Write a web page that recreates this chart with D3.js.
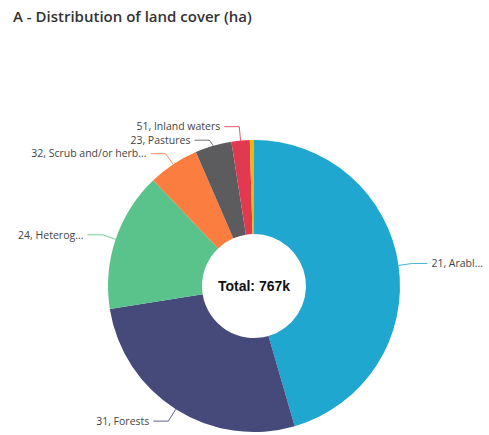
<!DOCTYPE html>
<html>
<head>
<meta charset="utf-8">
<script src="https://cdn.jsdelivr.net/npm/d3@7"></script>
<style>
  html, body { margin: 0; padding: 0; background: #fff; }
  svg { display: block; }
</style>
</head>
<body>
<svg id="chart" width="489" height="435"></svg>
<script>
// Land cover classes (CORINE level-2 codes) and area in thousand hectares
const categories = ["21, Arable land", "31, Forests", "24, Heterogeneous agricultural areas",
                    "32, Scrub and/or herbaceous vegetation", "23, Pastures", "51, Inland waters", "Other"];
const shortLabels = ["21, Arabl...", "31, Forests", "24, Heterog...",
                     "32, Scrub and/or herb...", "23, Pastures", "51, Inland waters", ""];
const values = [349, 207, 118, 43, 31, 15.5, 3.5];
const colors = ["#20A7CF", "#454A7B", "#5AC38B", "#FC7D40", "#5C5C5F", "#E13950", "#F3B607"];
const totalLabel = "Total: 767k";

const svg = d3.select("#chart");
const cx = 254, cy = 286, rOuter = 146, rInner = 52;

svg.append("text")
  .attr("x", 13).attr("y", 22)
  .attr("font-family", "'Open Sans', 'Noto Sans', sans-serif")
  .attr("font-size", 15)
  .attr("font-weight", 600)
  .attr("fill", "#333")
  .text("A - Distribution of land cover (ha)");

const data = categories.map((c, i) => ({ cat: c, label: shortLabels[i], value: values[i], color: colors[i] }));

const pie = d3.pie().value(d => d.value).sort(null);
const arcs = pie(data);
const arc = d3.arc().innerRadius(rInner).outerRadius(rOuter);

const g = svg.append("g").attr("transform", `translate(${cx},${cy})`);

g.selectAll("path.slice")
  .data(arcs)
  .join("path")
  .attr("class", "slice")
  .attr("d", arc)
  .attr("fill", d => d.data.color);

// Leader lines: radial stub from the rim, then a short horizontal run to the label
const stub = 14;
const labelled = arcs.filter(d => d.data.label);
const items = labelled.map(d => {
  const mid = (d.startAngle + d.endAngle) / 2;
  const rim = [Math.sin(mid) * rOuter, -Math.cos(mid) * rOuter];
  const elbow = [Math.sin(mid) * (rOuter + stub), -Math.cos(mid) * (rOuter + stub)];
  return { d, mid, rim, elbow, right: Math.sin(mid) > 0 };
});

// keep labels on each side from overlapping (top to bottom)
[true, false].forEach(side => {
  const list = items.filter(it => it.right === side).sort((a, b) => a.elbow[1] - b.elbow[1]);
  for (let i = 1; i < list.length; i++) {
    const minY = list[i - 1].elbow[1] + 13.5;
    if (list[i].elbow[1] < minY) list[i].elbow[1] = minY;
  }
});

items.forEach(it => {
  const dir = it.right ? 1 : -1;
  const end = [it.elbow[0] + dir * 15, it.elbow[1]];
  g.append("polyline")
    .attr("points", [it.rim, it.elbow, end].map(p => p.join(",")).join(" "))
    .attr("fill", "none")
    .attr("stroke", it.d.data.color)
    .attr("stroke-opacity", 0.85)
    .attr("stroke-width", 1);
  g.append("text")
    .attr("x", end[0] + dir * 4)
    .attr("y", end[1])
    .attr("dy", "0.35em")
    .attr("text-anchor", it.right ? "start" : "end")
    .attr("font-family", "'Open Sans', 'Noto Sans', sans-serif")
    .attr("font-size", 10.5)
    .attr("fill", "#444")
    .text(it.d.data.label);
});

g.append("text")
  .attr("x", 0).attr("y", 5)
  .attr("text-anchor", "middle")
  .attr("font-family", "'Liberation Sans', Arial, sans-serif")
  .attr("font-size", 14)
  .attr("font-weight", "bold")
  .attr("fill", "#111")
  .text(totalLabel);
</script>
</body>
</html>
